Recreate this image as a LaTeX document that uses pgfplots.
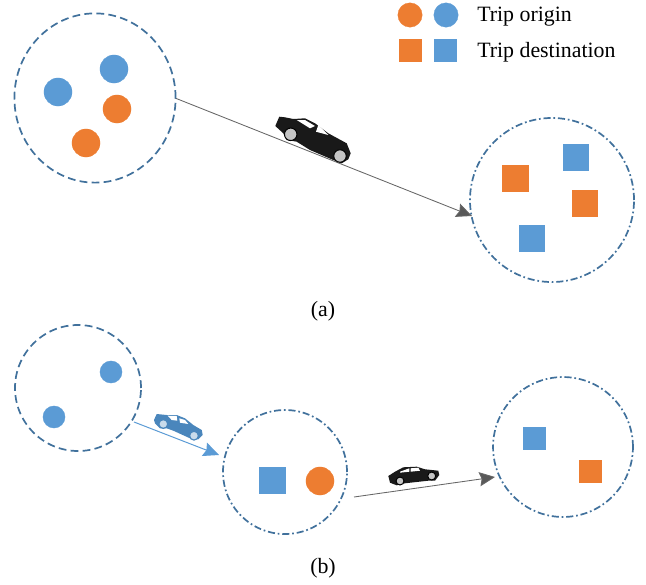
\documentclass[border=0pt]{standalone}
\usepackage{fontspec}
\setmainfont{Liberation Serif}
\usepackage{pgfplots}
\pgfplotsset{compat=1.18}
\usetikzlibrary{arrows.meta}
\definecolor{myorange}{HTML}{ED7D31}
\definecolor{myblue}{HTML}{5B9BD5}
\definecolor{ringblue}{HTML}{41719C}
\definecolor{carblue}{HTML}{4A86BC}
\definecolor{wheelgray}{HTML}{C4C4C4}
\pgfplotsset{
  zone/.style={only marks,mark=o,mark size=#1pt},
  dashring/.style={mark options={draw=ringblue,line width=1.2pt,dash pattern=on 5.5pt off 3pt,#1}},
  dashring/.default={},
  dotring/.style={mark options={draw=ringblue,line width=1.2pt,dash pattern=on 5pt off 2pt on 1.2pt off 2pt}},
  dot/.style 2 args={only marks,mark=*,mark size=#2pt,mark options={fill=#1,draw=#1,line width=0.2pt,solid}},
  box/.style 2 args={only marks,mark=square*,mark size=#2pt,mark options={fill=#1,draw=#1,line width=0.2pt,solid}},
  wheel/.style={only marks,mark=*,mark size=#1pt,mark options={fill=wheelgray,draw=black,line width=0.7pt}},
}
\begin{document}
\begin{tikzpicture}
\begin{axis}[
  scale only axis,
  width=16cm,
  height=14.489cm,
  xmin=0,xmax=646,
  ymin=0,ymax=585,
  y dir=reverse,
  hide axis,
  clip=false,
]
\path (axis cs:0,0) rectangle (axis cs:646,585);
% zones
\addplot[zone=56.8,dashring={yscale=1.05}] coordinates {(95,98)};
\addplot[zone=57.8,dotring] coordinates {(552,200)};
\addplot[zone=44.4,dashring] coordinates {(78,388)};
\addplot[zone=43.7,dotring] coordinates {(285,472)};
\addplot[zone=49.3,dotring] coordinates {(563,447)};
% trips
\addplot[dot={myblue}{9.9}] coordinates {(58,92) (114,69)};
\addplot[dot={myorange}{9.9}] coordinates {(117,109) (86,143)};
\addplot[box={myorange}{9}] coordinates {(515,178) (584.5,203)};
\addplot[box={myblue}{9}] coordinates {(575.5,157) (531.5,238)};
\addplot[dot={myblue}{7.8}] coordinates {(111,372) (54,417)};
\addplot[box={myblue}{9}] coordinates {(272,480)};
\addplot[dot={myorange}{9.9}] coordinates {(320,481)};
\addplot[box={myblue}{7.7}] coordinates {(534,438)};
\addplot[box={myorange}{7.7}] coordinates {(590,471)};
% legend
\addplot[dot={myorange}{8.6}] coordinates {(410,15)};
\addplot[dot={myblue}{8.6}] coordinates {(446,15)};
\addplot[box={myorange}{8}] coordinates {(410,50)};
\addplot[box={myblue}{8}] coordinates {(445,50)};
% arrows
\addplot[gray!80!black,line width=0.6pt,-{Stealth[length=11pt,width=10pt,inset=1.5pt,fill=black!65]}] coordinates {(175,98) (472,216)};
\addplot[myblue,line width=0.7pt,-{Stealth[length=11pt,width=10pt,inset=1.5pt]}] coordinates {(134,422) (219,455)};
\addplot[gray!80!black,line width=0.6pt,-{Stealth[length=11pt,width=10pt,inset=1.5pt,fill=black!65]}] coordinates {(354,497) (495,477)};
% car (a)
\addplot[fill=black!90,draw=none] coordinates {(275.3,126) (279.3,116.7) (285,117.3) (293.3,119) (305,118.3) (315,123.3) (328.3,133.3) (346.7,143.3) (350.7,153.3) (348.3,159.3) (341.7,163.3) (333.3,160) (310,150) (296.7,141.7) (286.7,140) (283.3,133.3)} --cycle;
\addplot[fill=white,draw=none] coordinates {(296.7,120) (305,120) (315,126) (310,128.3)} --cycle;
\addplot[fill=white,draw=none] coordinates {(316,131.7) (318.3,125) (326.7,133.3) (328.3,135)} --cycle;
\addplot[wheel=4.4] coordinates {(290.7,134.3) (340,156)};
% car (b), blue
\addplot[fill=carblue,draw=none] coordinates {(154,420) (156.7,414) (166.7,415) (176.7,415) (185,418.3) (193.3,425) (201.7,430) (202.7,435) (198.3,439.3) (190,438.3) (173.3,430.7) (166.7,428.3) (160,428.3) (155,423.3)} --cycle;
\addplot[fill=white,draw=none] coordinates {(167.7,415.7) (176.7,416) (177.3,420.7) (171.7,420)} --cycle;
\addplot[fill=white,draw=none] coordinates {(179.3,418.3) (185,420) (188.3,424) (180,422.7)} --cycle;
\addplot[only marks,mark=*,mark size=3.1pt,mark options={fill=white!70!carblue,draw=carblue,line width=0.8pt}] coordinates {(163.3,424) (194,435.7)};
% car (b), black
\addplot[fill=black!90,draw=none] coordinates {(388.3,476) (395,471.7) (403.3,467.3) (416.7,466.7) (425,469.3) (438.3,470.7) (439.3,475) (435,480.7) (428.3,480.7) (405,483.3) (396.7,485.3) (390,482.7)} --cycle;
\addplot[fill=white,draw=none] coordinates {(400,471.7) (409.3,468.3) (409.3,471.7) (400,472.7)} --cycle;
\addplot[fill=white,draw=none] coordinates {(410.7,468.3) (418.3,467.7) (420,470.7) (410.7,471.7)} --cycle;
\addplot[wheel=2.8] coordinates {(400,481) (431.7,476)};
% text
\node[anchor=west,font=\fontsize{15.4}{18}\selectfont,inner sep=0pt] at (axis cs:477,17) {Trip origin};
\node[anchor=west,font=\fontsize{15.4}{18}\selectfont,inner sep=0pt] at (axis cs:477,52) {Trip destination};
\node[font=\fontsize{15.4}{18}\selectfont,inner sep=0pt] at (axis cs:323,311) {(a)};
\node[font=\fontsize{15.4}{18}\selectfont,inner sep=0pt] at (axis cs:323,568) {(b)};
\end{axis}
\end{tikzpicture}
\end{document}
